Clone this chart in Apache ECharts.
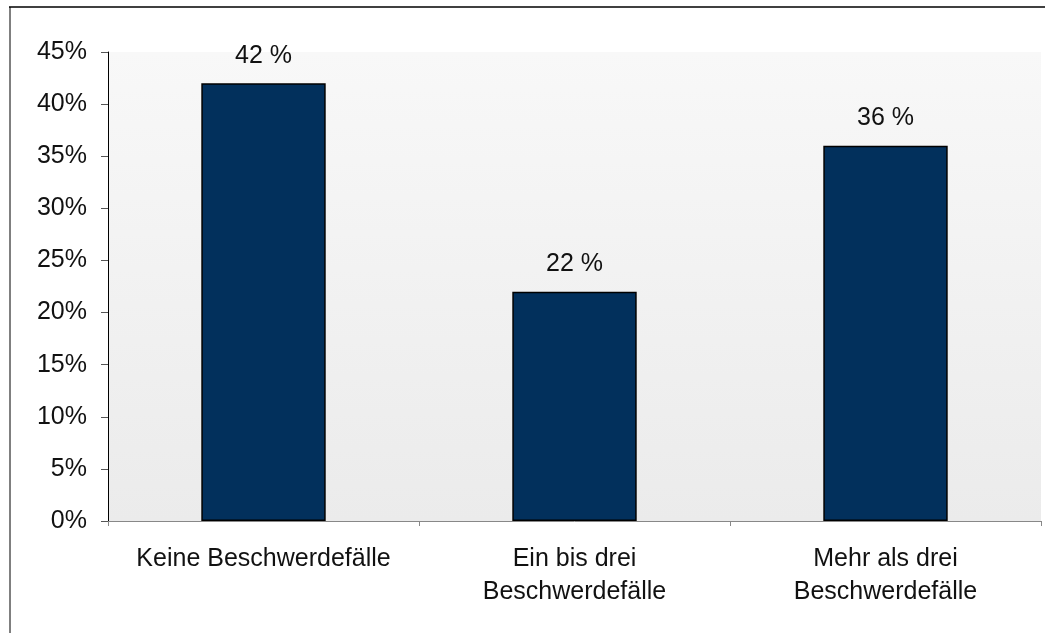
<!DOCTYPE html>
<html>
<head>
<meta charset="utf-8">
<style>
  html, body { margin: 0; padding: 0; background: #ffffff; }
  #chart { width: 1045px; height: 633px; }
</style>
<script src="https://cdn.jsdelivr.net/npm/echarts@6/dist/echarts.min.js"></script>
</head>
<body>
<div id="chart"></div>
<script>
// Anteil nach Anzahl der Beschwerdefälle
const categories = ['Keine Beschwerdefälle', 'Ein bis drei\nBeschwerdefälle', 'Mehr als drei\nBeschwerdefälle'];
const values = [42, 22, 36];
const yTicks = [0, 5, 10, 15, 20, 25, 30, 35, 40, 45];

const font = '"Liberation Sans", Arial, Helvetica, sans-serif';
const chart = echarts.init(document.getElementById('chart'), null, { renderer: 'canvas' });

chart.setOption({
  backgroundColor: '#ffffff',
  animation: false,
  graphic: [
    { type: 'line', shape: { x1: 9, y1: 7, x2: 1045, y2: 7 }, style: { stroke: '#404040', lineWidth: 2 }, z: 10 },
    { type: 'line', shape: { x1: 10, y1: 7, x2: 10, y2: 633 }, style: { stroke: '#000000', lineWidth: 1 }, z: 10 }
  ],
  grid: {
    left: 108, right: 4, top: 52, bottom: 112,
    show: true,
    borderWidth: 0,
    backgroundColor: {
      type: 'linear', x: 0, y: 0, x2: 0, y2: 1,
      colorStops: [{ offset: 0, color: '#f8f8f8' }, { offset: 1, color: '#ebebeb' }]
    }
  },
  xAxis: {
    type: 'category',
    data: categories,
    axisLine: { show: true, lineStyle: { color: '#888888', width: 1 } },
    axisTick: { show: true, inside: false, length: 5, lineStyle: { color: '#888888' } },
    axisLabel: {
      margin: 22,
      color: '#111111',
      fontFamily: font,
      fontSize: 25,
      lineHeight: 33,
      interval: 0
    },
    splitLine: { show: false }
  },
  yAxis: {
    type: 'value',
    min: yTicks[0],
    max: yTicks[yTicks.length - 1],
    interval: 5,
    axisLine: { show: true, lineStyle: { color: '#000000', width: 1 } },
    axisTick: { show: true, inside: false, length: 7, lineStyle: { color: '#555555' } },
    axisLabel: {
      margin: 21,
      color: '#111111',
      fontFamily: font,
      fontSize: 25,
      formatter: v => v + '%'
    },
    splitLine: { show: false }
  },
  series: [{
    type: 'bar',
    data: values,
    barWidth: '40%',
    itemStyle: { color: '#02305c', borderColor: '#000000', borderWidth: 1.5 },
    label: {
      show: true,
      position: 'top',
      distance: 15,
      color: '#111111',
      fontFamily: font,
      fontSize: 25,
      formatter: p => p.value + ' %'
    }
  }]
});
</script>
</body>
</html>
